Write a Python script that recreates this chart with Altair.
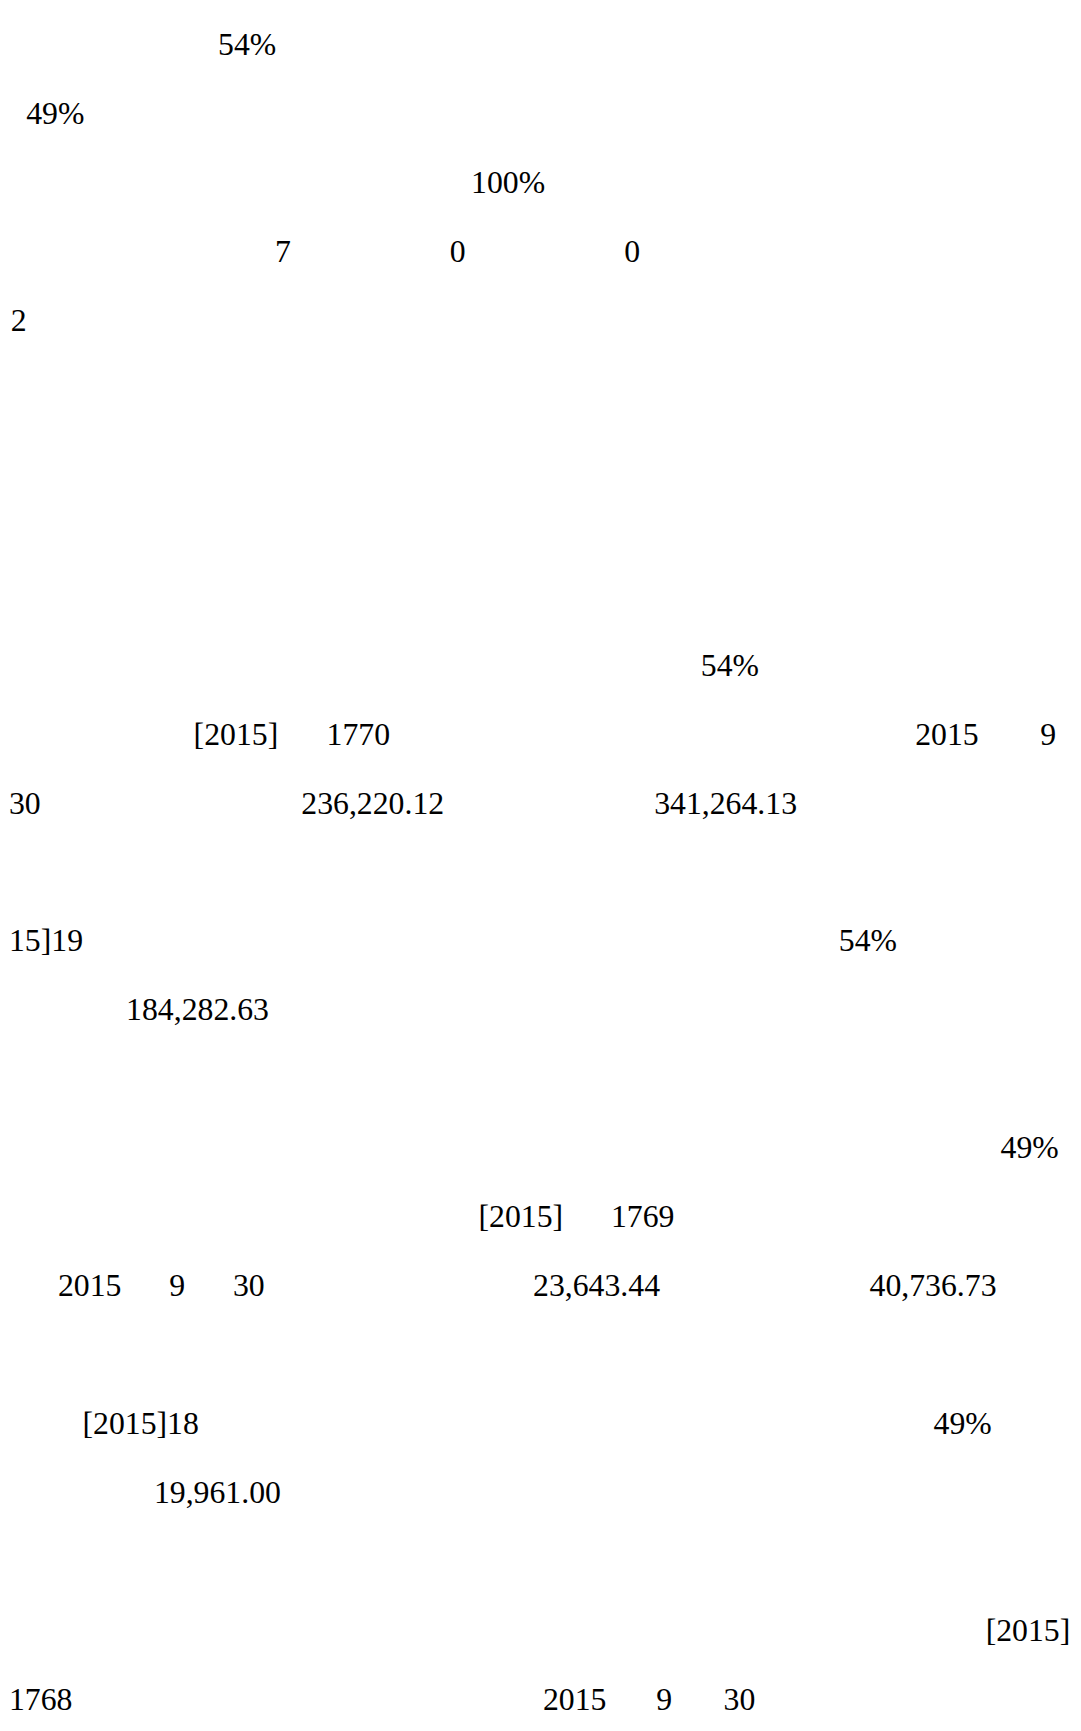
import altair as alt
import pandas as pd

# Text fragments read from the page: line number, horizontal position (page px of text origin), text
lines = [0, 1, 2, 3, 3, 3, 4,
         9, 10, 10, 10, 10, 11, 11, 11,
         13, 13, 14, 16, 17, 17,
         18, 18, 18, 18, 18,
         20, 20, 21, 23, 24, 24, 24, 24]
xpos = [219.7, 26.3, 474.5, 277, 453, 629, 10.7,
        706, 195, 329, 922, 1048, 9, 303.5, 659,
        9, 845, 127, 1008, 482, 615.5,
        58.3, 170.4, 234.6, 537, 876,
        83, 940.5, 155, 993, 9, 547, 661, 729]
texts = ["54%", "49%", "100%", "7", "0", "0", "2",
         "54%", "[2015]", "1770", "2015", "9", "30", "236,220.12", "341,264.13",
         "15]19", "54%", "184,282.63", "49%", "[2015]", "1769",
         "2015", "9", "30", "23,643.44", "40,736.73",
         "[2015]18", "49%", "19,961.00", "[2015]", "1768", "2015", "9", "30"]

df = pd.DataFrame({"line": lines, "x": xpos, "text": texts})

W, H = 1073, 1710

chart = alt.Chart(df).mark_text(
    font="Liberation Serif",
    fontSize=32,
    align="left",
    baseline="alphabetic",
    color="black",
).encode(
    x=alt.X("x:Q", scale=alt.Scale(domain=[8, 8 + W], range=[0, W]), axis=None),
    y=alt.Y("line:Q", scale=alt.Scale(domain=[0, 24], range=[41.3, 1708]), axis=None),
    text="text:N",
).properties(
    width=W,
    height=H,
    autosize=alt.AutoSizeParams(type="none"),
    padding=0,
    background="white",
).configure_view(stroke=None)

chart.save("out.html", embed_options={"renderer": "svg", "actions": False})
